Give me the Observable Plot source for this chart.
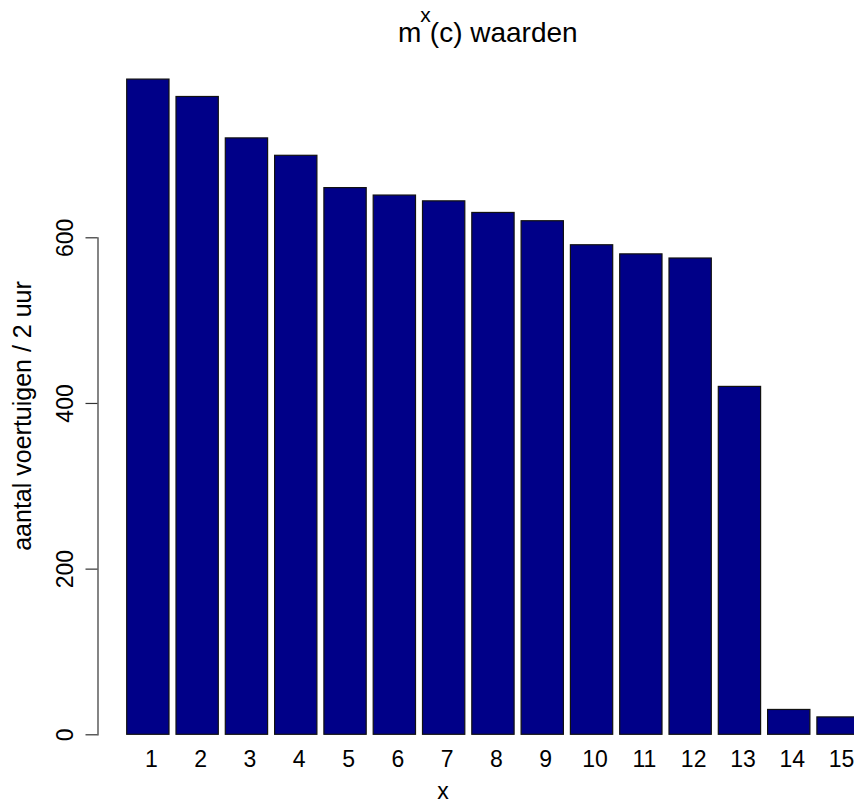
<!DOCTYPE html>
<html>
<head>
<meta charset="utf-8">
<script src="https://cdn.jsdelivr.net/npm/d3@7"></script>
<script src="https://cdn.jsdelivr.net/npm/@observablehq/plot@0.6"></script>
<style>
  html, body { margin: 0; padding: 0; background: #fff; overflow: hidden; }
  #chart { width: 854px; height: 805px; position: relative; }
</style>
</head>
<body>
<div id="chart"></div>
<script>
const categories = ["1","2","3","4","5","6","7","8","9","10","11","12","13","14","15"];
const values = [791, 770, 720, 699, 660, 651, 644, 630, 620, 591, 580, 575, 420, 30, 21];
const yTicks = [0, 200, 400, 600];
const titleMain = "m";
const titleSup = "x";
const titleRest = "(c) waarden";
const xLabel = "x";
const yLabel = "aantal voertuigen / 2 uur";

const data = categories.map((c, i) => ({x: c, v: values[i]}));
const FONT = "'Liberation Sans', Arial, Helvetica, sans-serif";

const plot = Plot.plot({
  width: 854,
  height: 805,
  marginLeft: 97.5,
  marginTop: 237.3,
  marginBottom: 70.7,
  marginRight: 0,
  style: {fontFamily: FONT, fontSize: "23px", color: "#000", background: "#fff", overflow: "visible"},
  x: {type: "band", domain: categories, range: [126.7, 859.2], paddingInner: 0.142, paddingOuter: 0, align: 0, round: false, axis: null},
  y: {domain: [0, 600], axis: null},
  marks: [
    Plot.barY(data, {x: "x", y: "v", fill: "#000088", stroke: "#111", strokeWidth: 1.2}),
    Plot.frame({anchor: "left", stroke: "#333", strokeWidth: 1.2}),
    Plot.axisY({ticks: yTicks, tickSize: 12, tickFormat: () => "", label: null, stroke: "#333", strokeWidth: 1.2}),
    Plot.text(yTicks, {y: d => d, text: d => String(d), frameAnchor: "left", rotate: -90, dx: -25.5, lineAnchor: "bottom", textAnchor: "middle", fontSize: 23, fill: "#000"}),
    Plot.text(categories, {x: d => d, text: d => d, frameAnchor: "bottom", dx: 3, dy: 32.5, lineAnchor: "bottom", textAnchor: "middle", fontSize: 23, fill: "#000"})
  ]
});

document.getElementById("chart").appendChild(plot);

const svg = d3.select(plot);
const t = svg.append("text")
  .attr("x", 398)
  .attr("y", 42)
  .attr("text-anchor", "start")
  .attr("font-family", FONT)
  .attr("font-size", 28)
  .attr("fill", "#000");
t.append("tspan").text(titleMain);
t.append("tspan").attr("dy", -20).attr("dx", -1).attr("font-size", 21).text(titleSup);
t.append("tspan").attr("dy", 20).attr("dx", -1).text(titleRest);

svg.append("text")
  .attr("x", 443)
  .attr("y", 799)
  .attr("text-anchor", "middle")
  .attr("font-family", FONT)
  .attr("font-size", 23)
  .attr("fill", "#000")
  .text(xLabel);

svg.append("text")
  .attr("transform", "translate(31,416) rotate(-90)")
  .attr("text-anchor", "middle")
  .attr("font-family", FONT)
  .attr("font-size", 25)
  .attr("fill", "#000")
  .text(yLabel);
</script>
</body>
</html>
